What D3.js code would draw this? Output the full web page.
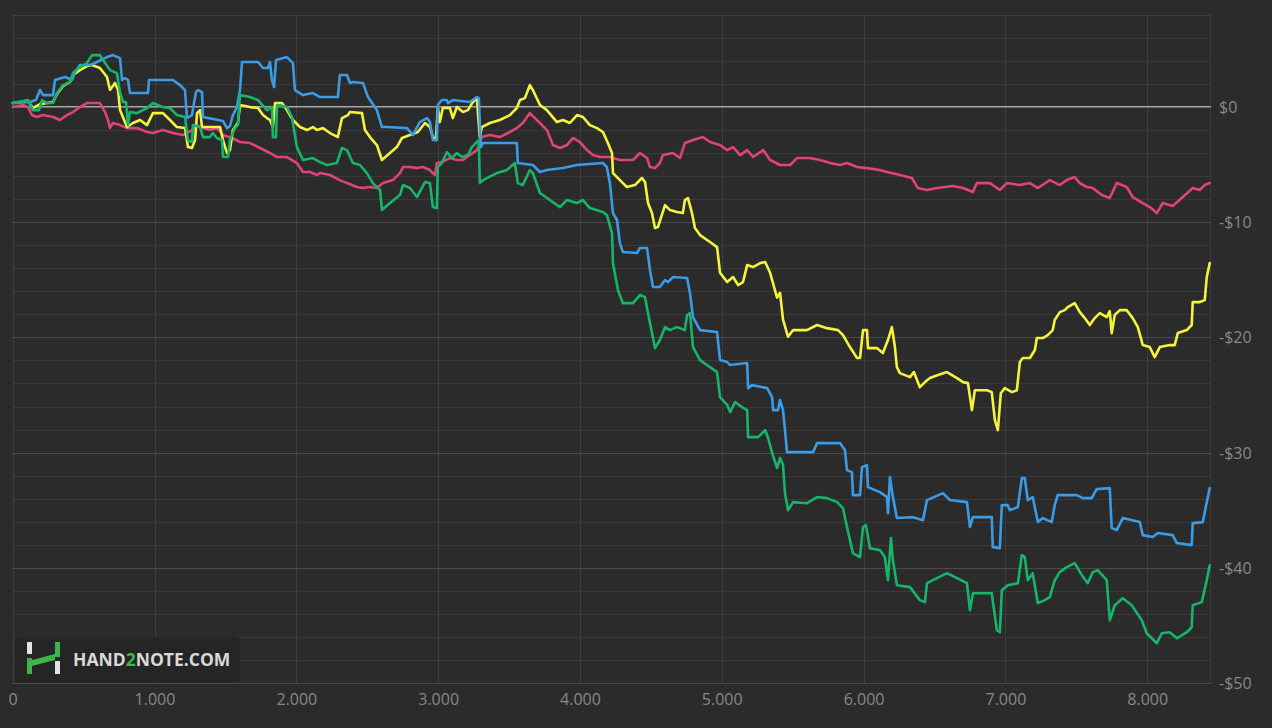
<!DOCTYPE html>
<html>
<head>
<meta charset="utf-8">
<script src="https://cdn.jsdelivr.net/npm/d3@7/dist/d3.min.js"></script>
<style>
  html, body { margin: 0; padding: 0; background: #2b2b2b; }
  svg { display: block; }
</style>
</head>
<body>
<svg id="chart" width="1272" height="728"></svg>
<script>
// ---- DATA (hands, dollars) ----
const xTickValues = [0, 1000, 2000, 3000, 4000, 5000, 6000, 7000, 8000];
const yMajorTicks = [0, -10, -20, -30, -40, -50];

const blueSeries = [[0,0.32],[122,0.41],[164,0.58],[192,1.45],[214,1.01],[284,1.01],[298,2.32],[369,2.58],[418,2.32],[439,2.99],[474,3.62],[545,3.62],[594,3.88],[665,4.31],[707,4.48],[757,4.22],[771,2.32],[792,2.49],[813,2.32],[827,1.19],[954,1.19],[961,2.32],[1130,2.32],[1180,1.88],[1215,1.45],[1229,-0.98],[1264,-0.72],[1292,1.27],[1306,1.45],[1335,1.27],[1342,-0.89],[1483,-1.24],[1511,-1.85],[1532,-1.67],[1553,-0.72],[1581,-0.03],[1603,1.45],[1617,3.88],[1730,3.88],[1765,3.36],[1800,3.36],[1814,3.88],[1828,2.32],[1843,1.71],[1857,4.05],[1934,4.31],[1976,3.79],[1990,1.45],[2047,1.01],[2117,1.19],[2167,0.84],[2237,0.84],[2293,0.84],[2307,2.75],[2357,2.75],[2378,2.06],[2399,2.14],[2470,2.06],[2505,0.84],[2568,-0.29],[2604,-1.76],[2639,-1.76],[2780,-1.85],[2822,-2.45],[2871,-1.33],[2921,-0.98],[2942,-1.33],[2963,-2.89],[2991,-2.89],[2998,0.15],[3026,0.58],[3062,0.58],[3069,0.32],[3104,0.58],[3224,0.41],[3273,0.84],[3287,0.75],[3301,-3.50],[3316,-3.15],[3555,-3.15],[3562,-4.88],[3668,-5.05],[3718,-5.66],[3767,-5.49],[3880,-5.31],[3979,-5.05],[4162,-4.88],[4190,-5.23],[4211,-6.61],[4233,-9.22],[4261,-9.82],[4282,-11.82],[4303,-12.60],[4402,-12.69],[4423,-12.25],[4473,-12.25],[4494,-14.16],[4515,-15.63],[4564,-15.63],[4600,-15.03],[4621,-15.20],[4656,-14.77],[4755,-14.85],[4776,-16.16],[4797,-18.24],[4847,-19.37],[4967,-19.54],[4988,-21.97],[5038,-22.14],[5059,-22.40],[5179,-22.23],[5186,-24.40],[5214,-24.14],[5320,-24.40],[5355,-25.18],[5362,-26.31],[5397,-26.31],[5411,-25.44],[5432,-26.31],[5446,-28.04],[5460,-29.95],[5644,-29.95],[5672,-29.17],[5834,-29.17],[5869,-29.78],[5883,-31.51],[5918,-31.69],[5925,-33.68],[5975,-33.68],[5989,-31.25],[6024,-31.08],[6031,-32.99],[6115,-33.42],[6165,-33.85],[6172,-35.24],[6186,-32.12],[6207,-33.85],[6235,-35.67],[6348,-35.59],[6419,-35.85],[6447,-34.11],[6560,-33.51],[6609,-34.11],[6729,-34.29],[6750,-36.45],[6771,-35.59],[6904,-35.59],[6911,-38.19],[6961,-38.28],[6975,-34.55],[7017,-34.55],[7031,-34.98],[7088,-34.72],[7116,-32.21],[7137,-32.21],[7158,-34.11],[7193,-33.85],[7229,-36.02],[7264,-35.67],[7327,-36.02],[7348,-34.55],[7369,-33.68],[7503,-33.68],[7546,-33.94],[7609,-33.94],[7644,-33.16],[7736,-33.07],[7750,-36.54],[7785,-36.71],[7828,-35.67],[7948,-36.02],[7969,-37.15],[8039,-37.32],[8075,-36.97],[8180,-37.15],[8209,-37.84],[8314,-38.02],[8321,-36.11],[8392,-36.02],[8420,-34.29],[8441,-33.07]];

const greenSeries = [[0,0.32],[108,0.58],[143,-0.29],[185,-0.29],[207,0.58],[242,0.32],[284,0.32],[312,1.19],[355,1.88],[404,2.14],[425,2.92],[474,3.44],[524,3.79],[559,4.48],[615,4.48],[637,4.05],[686,3.18],[735,2.92],[757,1.19],[778,0.41],[799,0.41],[813,-1.59],[827,-0.46],[876,-0.55],[947,-0.11],[989,0.32],[1060,-0.03],[1109,-0.11],[1158,-0.72],[1215,-0.89],[1236,-2.89],[1264,-3.06],[1271,-1.59],[1321,-1.76],[1342,-2.63],[1391,-2.63],[1412,-2.28],[1440,-2.71],[1476,-2.89],[1483,-4.36],[1518,-4.36],[1532,-2.89],[1567,-1.85],[1588,-1.59],[1603,1.01],[1673,0.84],[1730,0.58],[1793,-0.29],[1828,-0.03],[1835,-2.63],[1857,-2.63],[1864,0.15],[1934,-0.03],[1969,-0.89],[2004,-3.50],[2047,-4.62],[2117,-4.45],[2167,-4.80],[2216,-5.05],[2286,-4.88],[2322,-3.58],[2357,-3.76],[2399,-4.88],[2449,-5.05],[2498,-5.75],[2540,-6.62],[2590,-7.22],[2604,-8.96],[2660,-8.35],[2731,-7.66],[2752,-6.79],[2801,-7.05],[2851,-7.83],[2907,-6.53],[2942,-6.62],[2963,-8.70],[2991,-8.79],[2998,-5.23],[3026,-4.88],[3062,-3.93],[3097,-4.45],[3132,-4.01],[3168,-4.36],[3210,-4.19],[3238,-3.50],[3273,-3.06],[3287,-2.89],[3294,-6.62],[3316,-6.36],[3414,-5.75],[3485,-5.49],[3541,-4.88],[3562,-6.62],[3597,-6.79],[3647,-5.49],[3668,-5.75],[3718,-7.48],[3788,-8.09],[3859,-8.70],[3908,-8.09],[3979,-8.35],[4021,-8.09],[4070,-8.79],[4162,-9.13],[4190,-9.39],[4226,-10.95],[4233,-13.57],[4268,-15.90],[4303,-17.03],[4374,-17.03],[4423,-16.33],[4459,-16.51],[4480,-17.90],[4508,-19.63],[4529,-20.93],[4564,-20.23],[4600,-19.11],[4635,-19.37],[4684,-19.11],[4740,-19.37],[4755,-18.06],[4776,-17.89],[4797,-20.84],[4847,-21.97],[4917,-22.58],[4967,-23.01],[4988,-25.18],[5038,-25.85],[5059,-26.48],[5094,-25.61],[5143,-26.05],[5179,-26.31],[5186,-28.65],[5256,-28.65],[5285,-28.30],[5306,-28.04],[5327,-28.73],[5355,-30.03],[5390,-31.33],[5411,-30.47],[5432,-31.07],[5446,-33.51],[5467,-34.98],[5503,-34.29],[5601,-34.38],[5672,-33.85],[5742,-33.94],[5813,-34.29],[5855,-34.81],[5883,-36.45],[5925,-38.71],[5975,-39.05],[5996,-36.45],[6017,-36.28],[6045,-38.28],[6115,-38.45],[6150,-39.05],[6172,-41.05],[6193,-37.41],[6207,-39.32],[6235,-41.49],[6327,-41.66],[6397,-42.79],[6433,-42.96],[6447,-41.32],[6518,-40.88],[6588,-40.45],[6659,-40.88],[6729,-41.32],[6750,-43.66],[6771,-42.19],[6904,-42.19],[6940,-45.40],[6961,-45.57],[6975,-41.92],[7017,-41.49],[7088,-41.32],[7116,-38.89],[7137,-39.06],[7158,-41.06],[7193,-40.45],[7229,-43.05],[7278,-42.79],[7313,-42.53],[7348,-41.06],[7384,-40.36],[7433,-39.93],[7489,-39.58],[7539,-40.62],[7581,-41.32],[7616,-40.36],[7651,-40.19],[7715,-41.06],[7736,-44.53],[7771,-43.23],[7828,-42.62],[7891,-43.23],[7962,-44.53],[7997,-45.66],[8068,-46.53],[8103,-45.66],[8159,-45.57],[8209,-46.10],[8279,-45.57],[8314,-45.14],[8321,-43.23],[8385,-42.96],[8420,-41.06],[8441,-39.76]];

const yellowSeries = [[0,0.32],[108,0.49],[143,-0.11],[192,0.23],[242,0.32],[284,0.41],[312,1.10],[355,1.80],[404,2.14],[425,2.75],[474,3.18],[524,3.53],[559,3.62],[615,3.36],[665,2.58],[686,1.45],[721,2.06],[743,1.45],[757,-0.29],[806,-1.76],[848,-1.41],[898,-1.15],[947,-1.59],[989,-0.55],[1060,-0.55],[1109,-1.15],[1158,-1.76],[1215,-1.85],[1236,-3.50],[1264,-3.58],[1286,-2.89],[1300,-0.55],[1321,-0.29],[1335,-1.76],[1412,-1.76],[1462,-1.76],[1483,-2.89],[1511,-4.02],[1532,-3.76],[1553,-2.02],[1588,-1.41],[1603,0.15],[1673,-0.03],[1730,-0.11],[1765,-0.72],[1793,-0.98],[1814,-1.15],[1835,-1.76],[1850,0.32],[1899,0.32],[1934,-0.29],[1976,-1.15],[2026,-1.76],[2075,-2.02],[2117,-1.76],[2146,-2.02],[2188,-1.85],[2237,-2.28],[2293,-2.63],[2322,-0.98],[2364,-0.72],[2378,-0.46],[2463,-0.55],[2484,-2.02],[2519,-2.63],[2568,-3.32],[2604,-4.62],[2660,-4.02],[2709,-3.50],[2745,-2.71],[2801,-2.45],[2857,-2.19],[2907,-1.41],[2942,-1.76],[2963,-2.63],[2984,-2.89],[2998,-0.03],[3012,-1.33],[3033,-0.11],[3083,-0.11],[3104,-0.98],[3132,-0.03],[3175,-0.46],[3210,-0.29],[3245,0.41],[3273,0.75],[3294,-2.63],[3308,-1.76],[3365,-1.41],[3435,-1.15],[3506,-0.72],[3555,-0.11],[3577,0.58],[3612,0.75],[3647,1.88],[3668,1.45],[3718,0.15],[3767,-0.29],[3838,-1.33],[3880,-1.15],[3929,-1.41],[3979,-0.72],[4021,-0.89],[4070,-1.59],[4120,-1.85],[4162,-2.19],[4197,-3.15],[4226,-4.02],[4233,-5.75],[4261,-6.10],[4303,-6.62],[4331,-6.96],[4388,-6.79],[4437,-6.18],[4459,-6.53],[4480,-8.35],[4508,-9.22],[4529,-10.52],[4550,-10.43],[4600,-8.53],[4635,-8.96],[4684,-9.13],[4726,-9.22],[4740,-8.09],[4762,-7.92],[4790,-9.22],[4811,-10.52],[4847,-11.13],[4917,-11.73],[4967,-12.17],[4988,-14.40],[5038,-15.20],[5080,-14.77],[5115,-15.46],[5150,-15.20],[5179,-13.73],[5221,-13.90],[5270,-13.56],[5306,-13.47],[5341,-14.40],[5390,-16.56],[5411,-16.13],[5432,-18.47],[5467,-19.94],[5503,-19.37],[5601,-19.37],[5672,-18.93],[5742,-19.20],[5820,-19.37],[5855,-19.80],[5904,-20.84],[5954,-21.79],[5975,-21.79],[5996,-19.37],[6024,-19.37],[6031,-20.93],[6094,-20.93],[6136,-21.36],[6172,-20.23],[6200,-19.11],[6221,-20.84],[6235,-22.58],[6256,-23.10],[6327,-23.45],[6355,-23.01],[6397,-24.32],[6433,-23.88],[6468,-23.53],[6525,-23.27],[6588,-23.01],[6659,-23.53],[6701,-23.88],[6736,-23.97],[6764,-26.31],[6785,-24.58],[6870,-24.58],[6904,-24.75],[6926,-27.18],[6947,-28.04],[6968,-24.84],[6996,-24.40],[7046,-24.75],[7081,-24.58],[7102,-22.14],[7123,-21.79],[7173,-21.79],[7208,-21.10],[7222,-20.06],[7264,-20.06],[7299,-19.80],[7334,-19.37],[7348,-18.50],[7384,-17.81],[7419,-17.64],[7440,-17.38],[7489,-17.03],[7525,-17.81],[7560,-18.33],[7595,-18.93],[7630,-18.33],[7666,-17.90],[7715,-18.24],[7736,-17.72],[7750,-19.63],[7771,-18.06],[7807,-17.64],[7856,-17.64],[7898,-18.33],[7934,-19.11],[7969,-20.67],[8018,-20.84],[8053,-21.71],[8089,-20.84],[8159,-20.67],[8194,-20.67],[8216,-19.63],[8279,-19.37],[8314,-18.93],[8321,-16.94],[8371,-16.94],[8406,-16.77],[8420,-14.78],[8441,-13.56]];

const pinkSeries = [[0,-0.03],[73,0.15],[108,-0.03],[136,-0.72],[171,-0.89],[214,-0.72],[284,-0.89],[333,-1.15],[383,-0.72],[425,-0.46],[474,-0.03],[524,0.32],[594,0.32],[615,0.32],[651,-0.46],[672,-1.15],[686,-1.85],[707,-1.41],[757,-1.59],[806,-1.85],[876,-1.85],[947,-2.19],[989,-2.28],[1060,-2.02],[1130,-2.28],[1201,-2.45],[1264,-2.02],[1300,-1.59],[1342,-1.85],[1391,-2.02],[1440,-1.85],[1483,-2.45],[1546,-2.71],[1603,-3.06],[1673,-3.15],[1744,-3.58],[1814,-4.01],[1864,-4.36],[1934,-4.36],[2004,-4.88],[2047,-5.66],[2096,-5.66],[2146,-5.92],[2167,-5.75],[2237,-5.92],[2307,-6.36],[2357,-6.62],[2427,-6.96],[2470,-7.05],[2519,-6.96],[2568,-7.05],[2611,-6.62],[2681,-6.36],[2731,-5.75],[2752,-5.23],[2801,-5.23],[2851,-5.32],[2893,-5.23],[2942,-5.49],[2977,-5.92],[2991,-4.88],[3026,-4.80],[3083,-4.45],[3132,-4.62],[3175,-4.62],[3224,-4.19],[3273,-3.76],[3308,-2.63],[3365,-2.45],[3435,-2.63],[3506,-2.19],[3555,-1.85],[3597,-1.41],[3647,-0.55],[3682,-0.98],[3718,-1.41],[3767,-2.02],[3810,-3.32],[3859,-3.58],[3908,-3.32],[3951,-2.71],[4000,-3.06],[4049,-3.76],[4092,-4.19],[4141,-4.36],[4211,-4.36],[4282,-4.62],[4374,-4.62],[4423,-4.01],[4473,-4.45],[4494,-5.23],[4529,-5.32],[4564,-4.88],[4585,-4.19],[4656,-4.01],[4705,-4.45],[4740,-3.15],[4797,-2.89],[4867,-2.63],[4917,-3.06],[4988,-3.32],[5038,-3.76],[5080,-3.50],[5129,-4.19],[5179,-3.76],[5221,-4.36],[5292,-3.76],[5341,-4.62],[5411,-5.05],[5482,-5.05],[5531,-4.45],[5622,-4.45],[5693,-4.62],[5764,-4.88],[5834,-5.05],[5883,-4.88],[5954,-5.23],[6024,-5.32],[6115,-5.49],[6165,-5.66],[6256,-5.92],[6341,-6.18],[6383,-7.05],[6447,-7.22],[6518,-7.05],[6630,-6.88],[6701,-7.05],[6771,-7.40],[6799,-6.62],[6891,-6.62],[6961,-7.22],[7010,-6.62],[7102,-6.79],[7173,-6.62],[7229,-7.05],[7313,-6.36],[7384,-6.79],[7433,-6.36],[7489,-6.10],[7525,-6.62],[7574,-6.96],[7616,-7.05],[7680,-7.66],[7736,-7.92],[7785,-6.62],[7856,-6.96],[7898,-7.83],[7969,-8.35],[8018,-8.70],[8068,-9.22],[8110,-8.35],[8180,-8.61],[8251,-7.83],[8321,-7.05],[8371,-7.22],[8406,-6.79],[8441,-6.62]];

const seriesList = [
  { name: "pink",   data: pinkSeries,   color: "#e0427a" },
  { name: "yellow", data: yellowSeries, color: "#f4f43c" },
  { name: "blue",   data: blueSeries,   color: "#3a9be6" },
  { name: "green",  data: greenSeries,  color: "#16b56a" }
];

// ---- LAYOUT ----
const svg = d3.select("#chart");
const W = 1272, H = 728;
const plot = { left: 12.7, right: 1211, top: 14.5, bottom: 683.3 };

svg.append("rect").attr("width", W).attr("height", H).attr("fill", "#2b2b2b");

const x = d3.scaleLinear().domain([0, 8450]).range([plot.left, plot.right]);
const y = d3.scaleLinear().domain([-50, 8]).range([plot.bottom, plot.top]);

const grid = svg.append("g");
// minor horizontal gridlines every $2
const yMinor = d3.range(-50, 9, 2);
grid.selectAll("line.hminor").data(yMinor.filter(v => v % 10 !== 0)).join("line")
  .attr("x1", plot.left).attr("x2", plot.right)
  .attr("y1", d => Math.round(y(d)) + 0.5).attr("y2", d => Math.round(y(d)) + 0.5)
  .attr("stroke", "#3a3a3a").attr("stroke-width", 1);
// top border line
grid.append("line")
  .attr("x1", plot.left).attr("x2", plot.right)
  .attr("y1", Math.round(y(8)) + 0.5).attr("y2", Math.round(y(8)) + 0.5)
  .attr("stroke", "#3d3d3d");
// vertical gridlines
grid.selectAll("line.v").data(xTickValues).join("line")
  .attr("x1", d => Math.round(x(d)) + 0.5).attr("x2", d => Math.round(x(d)) + 0.5)
  .attr("y1", plot.top).attr("y2", plot.bottom)
  .attr("stroke", "#3e3e3e");
grid.append("line")
  .attr("x1", Math.round(plot.right) - 0.5).attr("x2", Math.round(plot.right) - 0.5)
  .attr("y1", plot.top).attr("y2", plot.bottom)
  .attr("stroke", "#3a3a3a");
// major horizontal gridlines
grid.selectAll("line.hmajor").data(yMajorTicks.filter(v => v !== 0)).join("line")
  .attr("x1", plot.left).attr("x2", plot.right)
  .attr("y1", d => Math.round(y(d)) + 0.5).attr("y2", d => Math.round(y(d)) + 0.5)
  .attr("stroke", "#4a4a4a").attr("stroke-width", 1);
// zero line
grid.append("line")
  .attr("x1", plot.left).attr("x2", plot.right)
  .attr("y1", y(0)).attr("y2", y(0))
  .attr("stroke", "#a8a8a8").attr("stroke-width", 1.6);

// ---- AXES ----
const fontFamily = "'Segoe UI', 'Open Sans', 'Noto Sans', sans-serif";
const yAxis = d3.axisRight(y).tickValues(yMajorTicks).tickSize(0).tickPadding(0)
  .tickFormat(d => d === 0 ? "$0" : "-$" + Math.abs(d));
const gy = svg.append("g").attr("transform", `translate(${1219},0)`).call(yAxis);
gy.select(".domain").remove();
gy.selectAll("text").attr("fill", "#888888").attr("font-size", "16px")
  .attr("font-family", fontFamily).attr("dy", "0.34em");

const xAxis = d3.axisBottom(x).tickValues(xTickValues).tickSize(0).tickPadding(0)
  .tickFormat(d => d === 0 ? "0" : d3.format(",")(d).replace(",", "."));
const gx = svg.append("g").attr("transform", `translate(0,${694})`).call(xAxis);
gx.select(".domain").remove();
gx.selectAll("text").attr("fill", "#888888").attr("font-size", "16px")
  .attr("font-family", fontFamily);

// ---- LINES ----
const line = d3.line().x(d => x(d[0])).y(d => y(d[1]));
const lines = svg.append("g");
seriesList.forEach(s => {
  lines.append("path").datum(s.data)
    .attr("fill", "none").attr("stroke", s.color)
    .attr("stroke-width", 2.6).attr("stroke-linejoin", "round").attr("stroke-linecap", "round")
    .attr("d", line);
});

// ---- WATERMARK ----
const wm = svg.append("g");
wm.append("rect").attr("x", 15).attr("y", 637).attr("width", 225).attr("height", 45)
  .attr("rx", 4).attr("fill", "#252525").attr("opacity", 0.9);
const white = "#e2e2e2", green = "#3cb54a";
wm.append("rect").attr("x", 27).attr("y", 642).attr("width", 5).attr("height", 12).attr("fill", white);
wm.append("rect").attr("x", 27).attr("y", 658).attr("width", 5).attr("height", 16).attr("fill", green);
wm.append("rect").attr("x", 55).attr("y", 642).attr("width", 5).attr("height", 15).attr("fill", green);
wm.append("rect").attr("x", 55).attr("y", 661).attr("width", 5).attr("height", 13).attr("fill", white);
wm.append("path").attr("d", "M32,660 L55,654 L55,660 L32,666 Z").attr("fill", green);
const t = wm.append("text").attr("x", 73).attr("y", 666)
  .attr("font-family", fontFamily).attr("font-weight", "bold").attr("font-size", "17.5px")
  .attr("fill", "#d9d9d9");
t.append("tspan").text("HAND");
t.append("tspan").attr("fill", green).text("2");
t.append("tspan").text("NOTE.COM");
</script>
</body>
</html>
